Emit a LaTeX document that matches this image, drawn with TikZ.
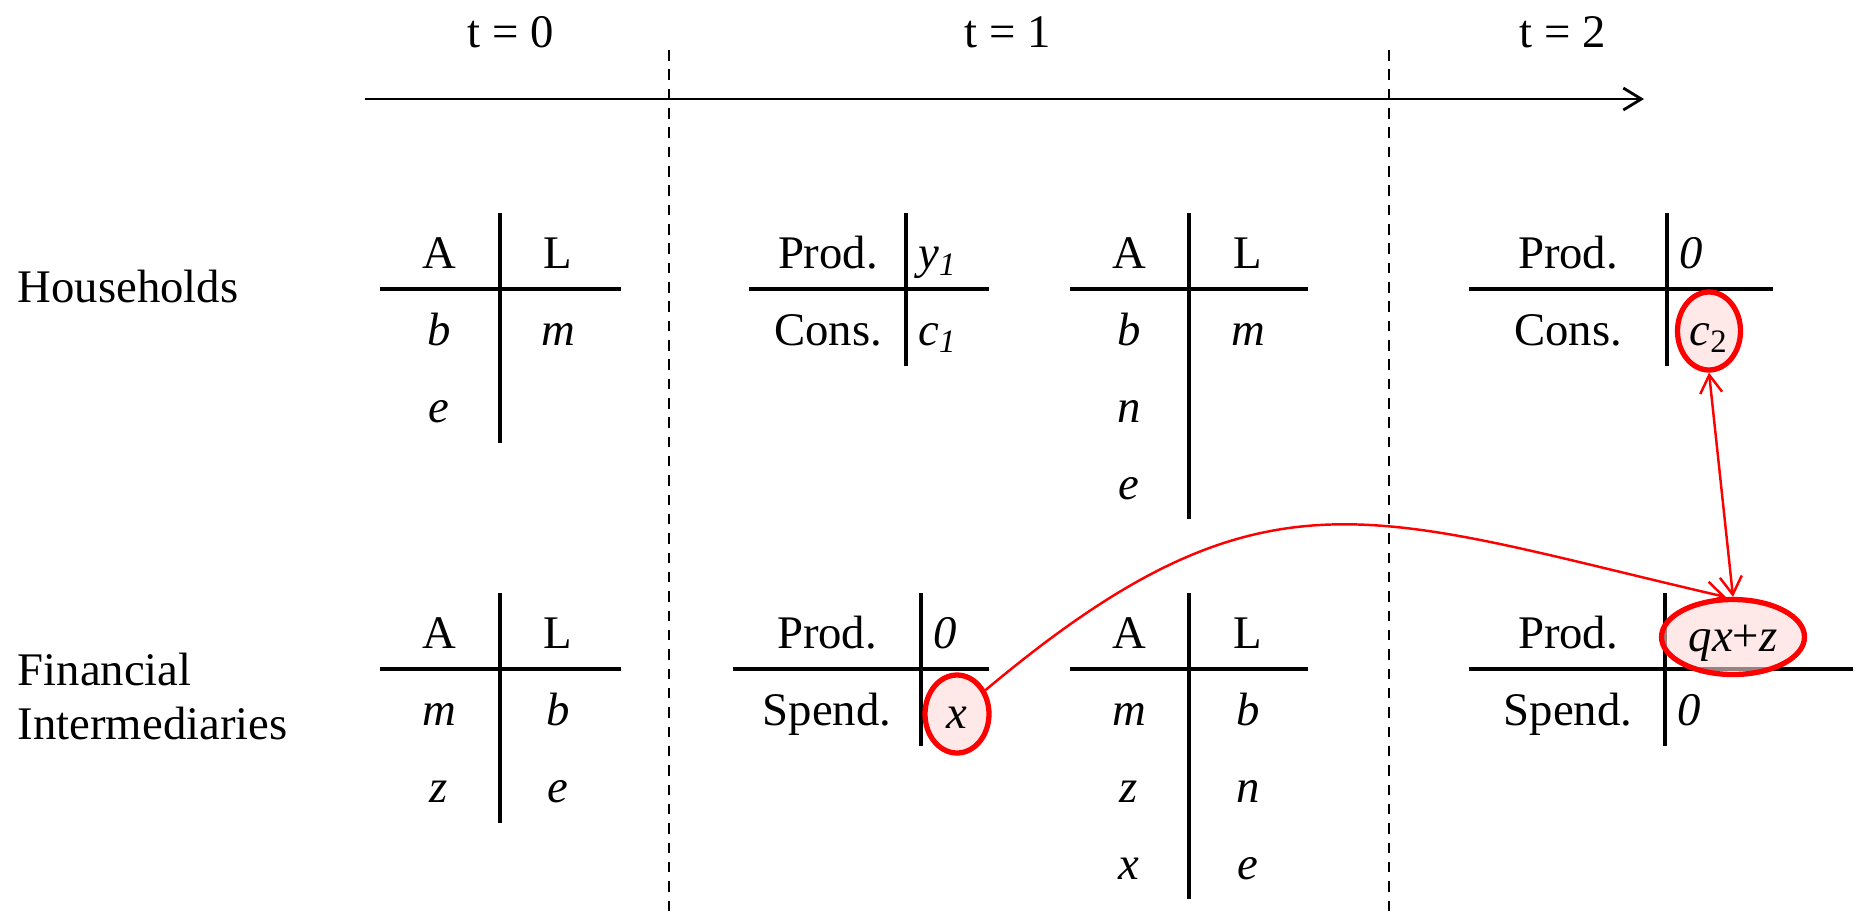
\documentclass[tikz,border=0pt]{standalone}
\usepackage{fontspec}
\setmainfont{Liberation Serif}
\usepackage{tikz}
\usetikzlibrary{arrows.meta,shapes.geometric}

\tikzset{
	>={Straight Barb[length=1.8mm,width=2.2mm]},
	tline/.style={line width=1pt},
	period/.style={line width=0.7pt, dash pattern=on 3pt off 2.5pt},
	entry/.style={anchor=base},
	value/.style={anchor=base west},
	hit/.style={ellipse, draw=red, line width=1.5pt, fill=red!15, fill opacity=0.6, text opacity=1,
		inner sep=0pt, text height=0.3cm, text depth=0.02cm},
	flow/.style={red, line width=0.7pt}
}

\begin{document}
\begin{tikzpicture}[font=\fontsize{13.3}{15.6}\selectfont]
	\useasboundingbox (0,0) rectangle (18.64,-9.17);

	% time line
	\node[entry] (t0) at (5.11,-0.47) {t = 0};
	\node[entry] (t1) at (10.08,-0.47) {t = 1};
	\node[entry] (t2) at (15.63,-0.47) {t = 2};
	\coordinate (tstart) at (3.65,-0.99);
	\coordinate (tend) at (16.44,-0.99);
	\draw[line width=0.8pt, ->] (tstart) -- (tend);
	\draw[period] (6.69,-0.50) -- (6.69,-9.15);
	\draw[period] (13.89,-0.50) -- (13.89,-9.15);

	\node[anchor=base west, inner sep=0pt] (hh) at (0.17,-3.02) {Households};
	\node[anchor=west, align=left, inner sep=0pt] (fi) at (0.17,-6.965) {Financial\\Intermediaries};

	% households
	\draw[tline] (3.80,-2.89) -- (6.21,-2.89) (5.00,-2.13) -- (5.00,-4.43);
	\node[entry] (hhA0) at (4.39,-2.68) {A};
	\node[entry] (hhL0) at (5.58,-2.68) {L};
	\node[entry] (hhb0) at (4.39,-3.45) {\textit{b}};
	\node[entry] (hhm0) at (5.58,-3.45) {\textit{m}};
	\node[entry] (hhe0) at (4.39,-4.22) {\textit{e}};

	\draw[tline] (7.49,-2.89) -- (9.89,-2.89) (9.06,-2.13) -- (9.06,-3.66);
	\node[entry] (hhprod1) at (8.28,-2.68) {Prod.};
	\node[value] (hhy1) at (9.06,-2.68) {\textit{y}\textsubscript{\textit{1}}};
	\node[entry] (hhcons1) at (8.28,-3.45) {Cons.};
	\node[value] (hhc1) at (9.06,-3.45) {\textit{c}\textsubscript{\textit{1}}};

	\draw[tline] (10.70,-2.89) -- (13.08,-2.89) (11.89,-2.13) -- (11.89,-5.19);
	\node[entry] (hhA1) at (11.29,-2.68) {A};
	\node[entry] (hhL1) at (12.48,-2.68) {L};
	\node[entry] (hhb1) at (11.29,-3.45) {\textit{b}};
	\node[entry] (hhm1) at (12.48,-3.45) {\textit{m}};
	\node[entry] (hhn1) at (11.29,-4.22) {\textit{n}};
	\node[entry] (hhe1) at (11.29,-4.99) {\textit{e}};

	\draw[tline] (14.69,-2.89) -- (17.73,-2.89) (16.67,-2.13) -- (16.67,-3.66);
	\node[entry] (hhprod2) at (15.68,-2.68) {Prod.};
	\node[value] (hhy2) at (16.67,-2.68) {\textit{0}};
	\node[entry] (hhcons2) at (15.68,-3.45) {Cons.};
	\node[hit, minimum width=0.63cm, minimum height=0.78cm] (c2e) at (17.09,-3.31) {\textit{c}\textsubscript{2}};

	% financial intermediaries
	\draw[tline] (3.80,-6.69) -- (6.21,-6.69) (5.00,-5.93) -- (5.00,-8.23);
	\node[entry] (fiA0) at (4.39,-6.48) {A};
	\node[entry] (fiL0) at (5.58,-6.48) {L};
	\node[entry] (fim0) at (4.39,-7.25) {\textit{m}};
	\node[entry] (fib0) at (5.58,-7.25) {\textit{b}};
	\node[entry] (fiz0) at (4.39,-8.02) {\textit{z}};
	\node[entry] (fie0) at (5.58,-8.02) {\textit{e}};

	\draw[tline] (7.33,-6.69) -- (9.89,-6.69) (9.21,-5.93) -- (9.21,-7.46);
	\node[entry] (fiprod1) at (8.27,-6.48) {Prod.};
	\node[value] (fiy1) at (9.21,-6.48) {\textit{0}};
	\node[entry] (fispend1) at (8.27,-7.25) {Spend.};
	\node[hit, minimum width=0.64cm, minimum height=0.78cm] (xe) at (9.57,-7.14) {\textit{x}};

	\draw[tline] (10.70,-6.69) -- (13.08,-6.69) (11.89,-5.93) -- (11.89,-8.99);
	\node[entry] (fiA1) at (11.29,-6.48) {A};
	\node[entry] (fiL1) at (12.48,-6.48) {L};
	\node[entry] (fim1) at (11.29,-7.25) {\textit{m}};
	\node[entry] (fib1) at (12.48,-7.25) {\textit{b}};
	\node[entry] (fiz1) at (11.29,-8.02) {\textit{z}};
	\node[entry] (fin1) at (12.48,-8.02) {\textit{n}};
	\node[entry] (fix1) at (11.29,-8.79) {\textit{x}};
	\node[entry] (fie1) at (12.48,-8.79) {\textit{e}};

	\draw[tline] (14.69,-6.69) -- (18.53,-6.69) (16.65,-5.93) -- (16.65,-7.46);
	\node[entry] (fiprod2) at (15.68,-6.48) {Prod.};
	\node[hit, minimum width=1.43cm, minimum height=0.75cm] (qxze) at (17.33,-6.37) {\textit{qx}+\textit{z}};
	\node[entry] (fispend2) at (15.68,-7.25) {Spend.};
	\node[value] (fiy2) at (16.65,-7.25) {\textit{0}};

	% flows
	\draw[flow, ->] (xe.40) to[out=40, in=167, looseness=1.25] (qxze.100);
	\draw[flow, <->] (c2e.south) -- (qxze.north);
\end{tikzpicture}
\end{document}
